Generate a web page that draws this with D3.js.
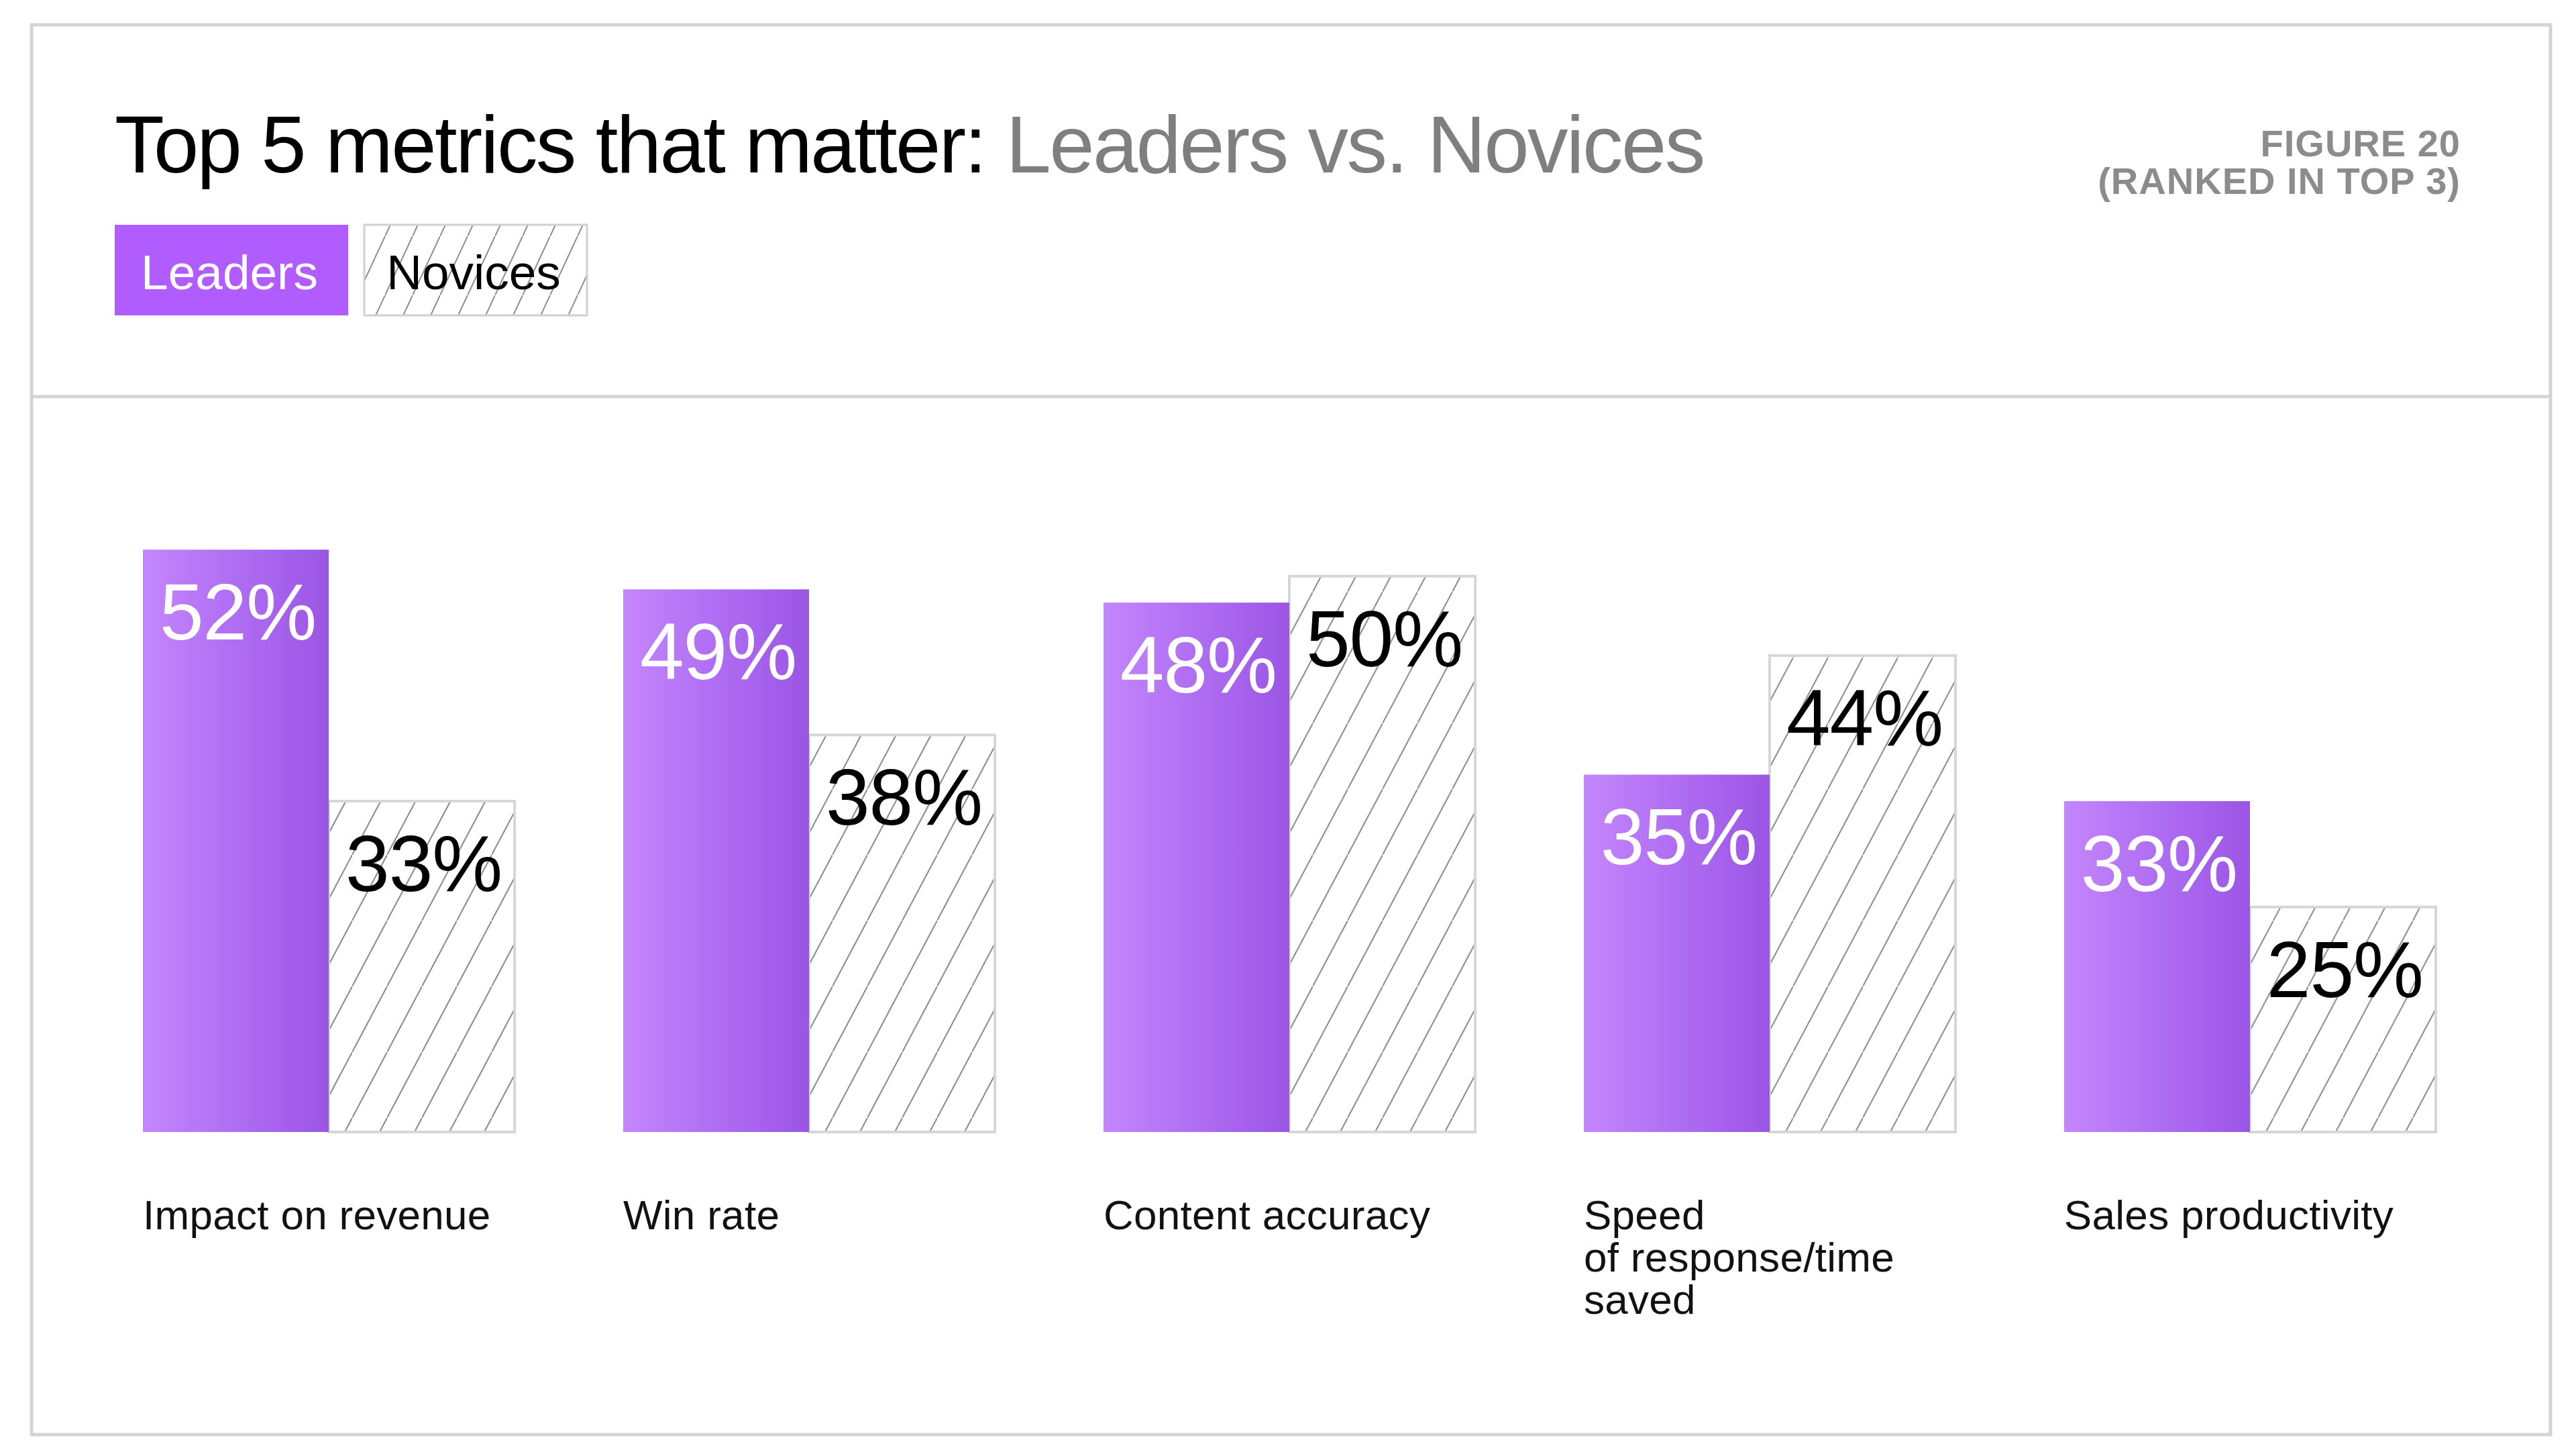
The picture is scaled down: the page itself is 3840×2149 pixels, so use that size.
<!DOCTYPE html>
<html>
<head>
<meta charset="utf-8">
<script src="https://cdn.jsdelivr.net/npm/d3@7"></script>
<style>
  body { margin: 0; background: #fff; }
  svg { display: block; }
  text { font-family: "Liberation Sans", Arial, Helvetica, sans-serif; }
</style>
</head>
<body>
<div id="chart"></div>
<script>
// chart data
var categories = ["Impact on revenue", "Win rate", "Content accuracy", "Speed\nof response/time\nsaved", "Sales productivity"];
var series = ["Leaders", "Novices"];
var leaders = [52, 49, 48, 35, 33];
var novices = [33, 38, 50, 44, 25];

var width = 3840, height = 2149;
var frame = {left: 47, top: 37, right: 3802, bottom: 2138};
var baseline = 1687;

var svg = d3.select("#chart").append("svg")
    .attr("width", width)
    .attr("height", height);

var defs = svg.append("defs");

// purple gradient for the leaders bars
var grad = defs.append("linearGradient")
    .attr("id", "leadGrad")
    .attr("x1", 0).attr("y1", 0).attr("x2", 1).attr("y2", 0);
grad.append("stop").attr("offset", "0%").attr("stop-color", "#c486fc");
grad.append("stop").attr("offset", "55%").attr("stop-color", "#ad6bf1");
grad.append("stop").attr("offset", "100%").attr("stop-color", "#9b55e4");

// diagonal hatch for novices
function hatch(id, w, h) {
  var p = defs.append("pattern")
      .attr("id", id)
      .attr("patternUnits", "userSpaceOnUse")
      .attr("width", w)
      .attr("height", h);
  p.append("rect").attr("width", w).attr("height", h).attr("fill", "#fff");
  p.append("line")
      .attr("x1", -1).attr("y1", h + h / w)
      .attr("x2", w + 1).attr("y2", -h / w)
      .attr("stroke", "#8c8c8c")
      .attr("stroke-width", 2);
}
hatch("hatch", 52, 98);
hatch("hatchSmall", 41, 88);

// frame and divider
svg.append("rect")
    .attr("x", frame.left).attr("y", frame.top)
    .attr("width", frame.right - frame.left)
    .attr("height", frame.bottom - frame.top)
    .attr("fill", "none")
    .attr("stroke", "#d4d4d4")
    .attr("stroke-width", 5);

svg.append("line")
    .attr("x1", frame.left).attr("x2", frame.right)
    .attr("y1", 591).attr("y2", 591)
    .attr("stroke", "#d4d4d4")
    .attr("stroke-width", 5);

// title
var title = svg.append("text")
    .attr("x", 171).attr("y", 257)
    .attr("font-size", 121)
    .attr("letter-spacing", -2.6);
title.append("tspan").attr("fill", "#000").text("Top 5 metrics that matter: ");
title.append("tspan").attr("fill", "#7f7f7f").text("Leaders vs. Novices");

// figure note
svg.append("text")
    .attr("x", 3668).attr("y", 233)
    .attr("text-anchor", "end")
    .attr("font-size", 56)
    .attr("font-weight", "bold")
    .attr("letter-spacing", 1)
    .attr("fill", "#8c8c8c")
    .text("FIGURE 20");
svg.append("text")
    .attr("x", 3668).attr("y", 289)
    .attr("text-anchor", "end")
    .attr("font-size", 56)
    .attr("font-weight", "bold")
    .attr("letter-spacing", 1)
    .attr("fill", "#8c8c8c")
    .text("(RANKED IN TOP 3)");

// legend
var legendBoxes = [
  {x: 171, w: 348, fill: "#b05cff", stroke: "none", text: "#fff"},
  {x: 543, w: 332, fill: "url(#hatchSmall)", stroke: "#d0d0d0", text: "#000"}
];
var legend = svg.append("g").selectAll("g")
    .data(series)
    .enter().append("g");
legend.append("rect")
    .attr("x", function(d, i) { return legendBoxes[i].x; })
    .attr("y", 335)
    .attr("width", function(d, i) { return legendBoxes[i].w; })
    .attr("height", 135)
    .attr("fill", function(d, i) { return legendBoxes[i].fill; })
    .attr("stroke", function(d, i) { return legendBoxes[i].stroke; })
    .attr("stroke-width", 3);
legend.append("text")
    .attr("x", function(d, i) { return legendBoxes[i].x + legendBoxes[i].w / 2 - 3; })
    .attr("y", 431)
    .attr("text-anchor", "middle")
    .attr("font-size", 73)
    .attr("fill", function(d, i) { return legendBoxes[i].text; })
    .text(function(d) { return d; });

// scales
var x0 = d3.scaleBand()
    .domain(categories)
    .range([213, 3631])
    .paddingInner(0.226)
    .paddingOuter(0);

var x1 = d3.scaleBand()
    .domain(series)
    .range([0, x0.bandwidth()]);

var y = d3.scaleLinear()
    .domain([8, 55])
    .range([baseline, 760]);

var rows = categories.map(function(c, i) {
  return {cat: c, values: [
    {s: "Leaders", v: leaders[i]},
    {s: "Novices", v: novices[i]}
  ]};
});

var group = svg.append("g").selectAll(".group")
    .data(rows)
    .enter().append("g")
    .attr("class", "group")
    .attr("transform", function(d) { return "translate(" + x0(d.cat) + ",0)"; });

// novices first so leaders sit on top of the shared edge
group.selectAll("rect")
    .data(function(d) { return d.values.slice().reverse(); })
    .enter().append("rect")
    .attr("x", function(d) { return x1(d.s); })
    .attr("y", function(d) { return y(d.v); })
    .attr("width", x1.bandwidth())
    .attr("height", function(d) { return baseline - y(d.v); })
    .attr("fill", function(d) { return d.s === "Leaders" ? "url(#leadGrad)" : "url(#hatch)"; })
    .attr("stroke", function(d) { return d.s === "Leaders" ? "none" : "#d6d6d6"; })
    .attr("stroke-width", 4);

// value labels
group.selectAll(".val")
    .data(function(d) { return d.values; })
    .enter().append("text")
    .attr("class", "val")
    .attr("x", function(d) { return x1(d.s) + x1.bandwidth() / 2 + 3; })
    .attr("y", function(d) { return y(d.v) + 134; })
    .attr("text-anchor", "middle")
    .attr("font-size", 118)
    .attr("letter-spacing", -1)
    .attr("fill", function(d) { return d.s === "Leaders" ? "#fff" : "#000"; })
    .text(function(d) { return d.v + "%"; });

// category labels
var catLabel = group.append("text")
    .attr("x", 0)
    .attr("y", 1832)
    .attr("font-size", 62)
    .attr("letter-spacing", 0.3)
    .attr("fill", "#111");
catLabel.selectAll("tspan")
    .data(function(d) { return d.cat.split("\n"); })
    .enter().append("tspan")
    .attr("x", 0)
    .attr("dy", function(d, i) { return i === 0 ? 0 : 63; })
    .text(function(d) { return d; });
</script>
</body>
</html>
